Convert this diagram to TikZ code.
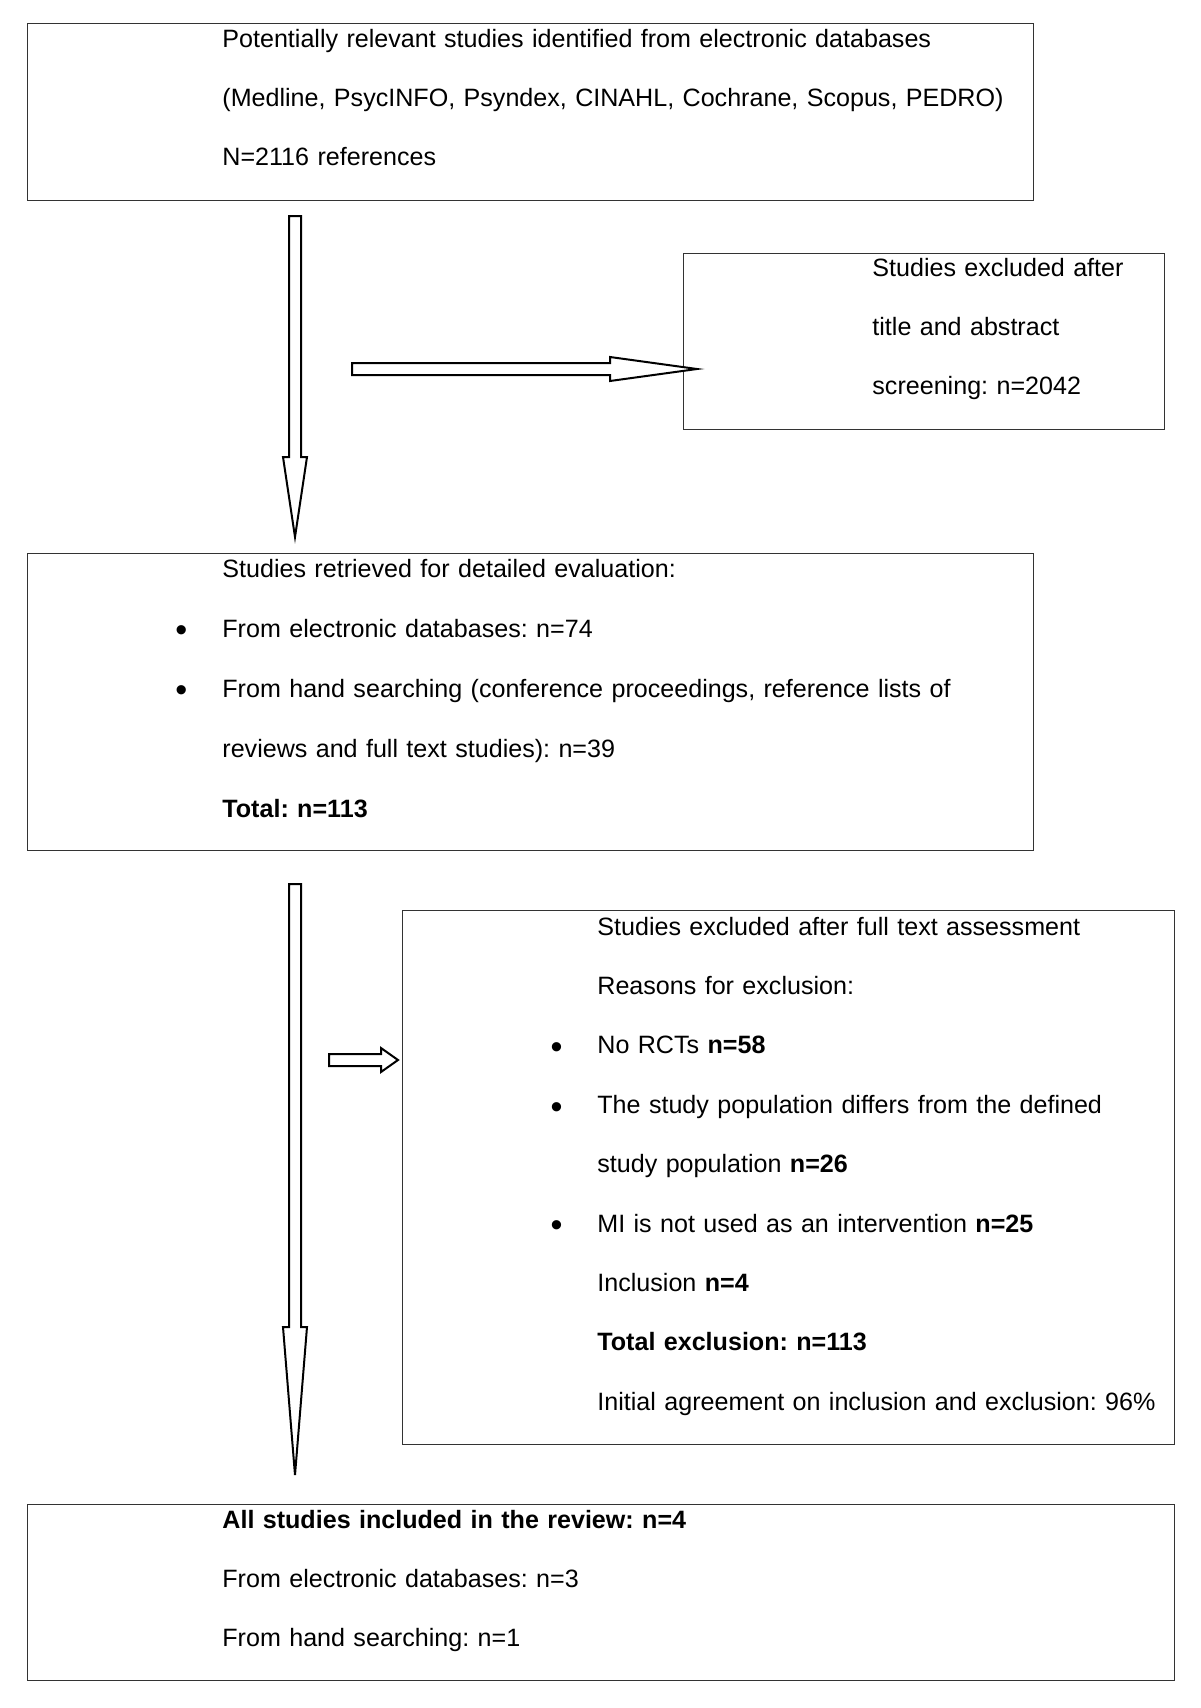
\documentclass[tikz,border=0pt]{standalone}
\usepackage{fontspec}
\setmainfont{Liberation Sans}
\usetikzlibrary{calc}
\frenchspacing

% block arrows, drawn between two named coordinates
\newcommand{\blockdown}[3]{%
  \draw[blockarrow] ($(#1)+(-6,0)$) -- ($(#1)+(6,0)$) -- ($(#2)+(6,-#3)$) -- ($(#2)+(12,-#3)$)
    -- (#2) -- ($(#2)+(-12,-#3)$) -- ($(#2)+(-6,-#3)$) -- cycle;}
\newcommand{\blockright}[3]{%
  \draw[blockarrow] ($(#1)+(0,-6)$) -- ($(#2)+(-#3,-6)$) -- ($(#2)+(-#3,-12)$)
    -- (#2) -- ($(#2)+(-#3,12)$) -- ($(#2)+(-#3,6)$) -- ($(#1)+(0,6)$) -- cycle;}
\newcommand{\bul}{\leavevmode\llap{\raisebox{-2.4pt}{\fontsize{17}{17}\selectfont\textbullet}\hspace{17.5pt}}}

\begin{document}
\begin{tikzpicture}[x=0.5pt,y=-0.5pt]
  \tikzstyle{box}=[draw=black!80,line width=0.7pt,anchor=north west,inner sep=0pt]
  \tikzstyle{txt}=[anchor=base west,inner sep=0pt,text width=560pt,align=left,
    font=\fontsize{12.55}{29.5}\selectfont]
  \tikzstyle{blockarrow}=[draw=black,line width=1pt,fill=white,line join=miter]

  \useasboundingbox (0,0) rectangle (1200,1708);

  \node[box,minimum width=503pt,minimum height=88.5pt] (A) at (27,23) {};
  \node[txt] (a) at (222,47) {Potentially relevant studies identified from electronic databases\\
    (Medline, PsycINFO, Psyndex, CINAHL, Cochrane, Scopus, PEDRO)\\
    N=2116 references};

  \node[box,minimum width=240.5pt,minimum height=88pt] (B) at (683,253) {};
  \node[txt] (b) at (872,276) {Studies excluded after\\title and abstract\\screening: n=2042};

  \node[box,minimum width=503pt,minimum height=148.5pt] (C) at (27,553) {};
  \node[txt,font=\fontsize{12.55}{30}\selectfont] (c) at (222,577) {Studies retrieved for detailed evaluation:\\
    \bul From electronic databases: n=74\\
    \bul From hand searching (conference proceedings, reference lists of\\
    reviews and full text studies): n=39\\
    \textbf{Total: n=113}};

  \node[box,minimum width=386pt,minimum height=267pt] (D) at (402,910) {};
  \node[txt,font=\fontsize{12.55}{29.7}\selectfont] (d) at (597,935) {Studies excluded after full text assessment\\
    Reasons for exclusion:\\
    \bul No RCTs \textbf{n=58}\\
    \bul The study population differs from the defined\\
    study population \textbf{n=26}\\
    \bul MI is not used as an intervention \textbf{n=25}\\
    Inclusion \textbf{n=4}\\
    \textbf{Total exclusion: n=113}\\
    Initial agreement on inclusion and exclusion: 96\%};

  \node[box,minimum width=573.5pt,minimum height=88pt] (E) at (27,1504) {};
  \node[txt] (e) at (222,1528) {\textbf{All studies included in the review: n=4}\\
    From electronic databases: n=3\\
    From hand searching: n=1};

  % arrows
  \coordinate (p1) at (295,216);
  \coordinate (q1) at (295,537);
  \coordinate (p2) at (352,369);
  \coordinate (q2) at (697,369);
  \coordinate (p3) at (295,884);
  \coordinate (q3) at (295,1475);
  \coordinate (p4) at (329,1060);
  \coordinate (q4) at (398,1060);

  \blockdown{p1}{q1}{80}
  \blockright{p2}{q2}{87}
  \blockdown{p3}{q3}{148}
  \blockright{p4}{q4}{17}
\end{tikzpicture}
\end{document}
